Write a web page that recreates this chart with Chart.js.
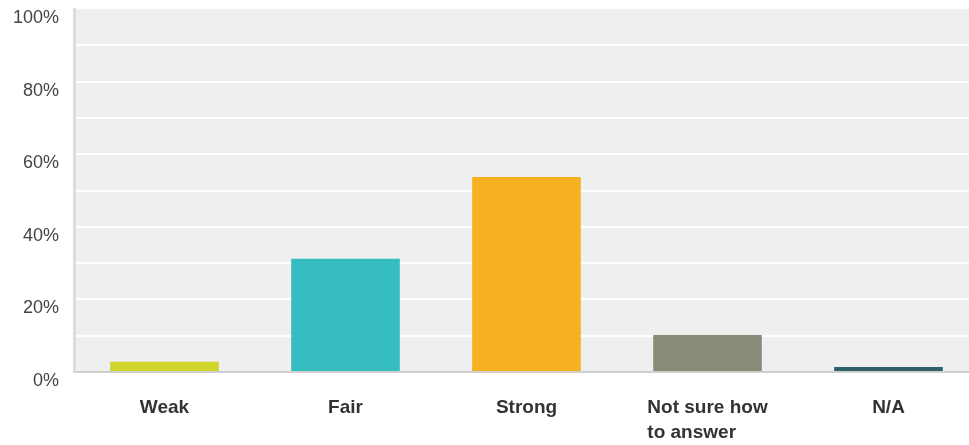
<!DOCTYPE html>
<html>
<head>
<meta charset="utf-8">
<script src="https://cdn.jsdelivr.net/npm/chart.js@4.4.1/dist/chart.umd.min.js"></script>
<style>
  html, body { margin: 0; padding: 0; background: #fff; overflow: hidden; }
  #wrap { position: relative; width: 979px; height: 445px; }
</style>
</head>
<body>
<div id="wrap"><canvas id="chart"></canvas></div>
<script>
// categories and values
const categories = [['Weak'], ['Fair'], ['Strong'], ['Not sure how', 'to answer'], ['N/A']];
const percents = [2.8, 31.2, 53.7, 10.2, 1.4];
const barColors = ['#cfd42a', '#35bdbf', '#f7b01f', '#8a8a79', '#2f5f6b'];
const yTicks = [0, 20, 40, 60, 80, 100];

const FONT = '"Liberation Sans", Arial, sans-serif';

// light grey plot background
const plotBg = {
  id: 'plotBg',
  beforeDraw(chart) {
    const a = chart.chartArea, ctx = chart.ctx;
    ctx.save();
    ctx.fillStyle = '#efefef';
    ctx.fillRect(a.left, a.top, a.right - a.left, a.bottom - a.top);
    ctx.restore();
  }
};

// x labels: multi-line ones are left aligned inside a centred block
const xLabels = {
  id: 'xLabels',
  afterDraw(chart) {
    const ctx = chart.ctx, x = chart.scales.x;
    ctx.save();
    ctx.font = 'bold 19px ' + FONT;
    ctx.fillStyle = '#333';
    ctx.textBaseline = 'alphabetic';
    ctx.textAlign = 'left';
    categories.forEach((lines, i) => {
      const cx = x.getPixelForValue(i);
      const w = Math.max(...lines.map(l => ctx.measureText(l).width));
      lines.forEach((l, j) => {
        ctx.fillText(l, cx - w / 2, 413 + j * 25);
      });
    });
    ctx.restore();
  }
};

new Chart(document.getElementById('chart'), {
  type: 'bar',
  data: {
    labels: categories.map(c => c.join(' ')),
    datasets: [{
      data: percents,
      backgroundColor: barColors,
      barPercentage: 0.6,
      categoryPercentage: 1
    }]
  },
  options: {
    responsive: true,
    maintainAspectRatio: false,
    animation: false,
    layout: { padding: { top: 9, right: 0, bottom: 0, left: 0 } },
    plugins: { legend: { display: false }, tooltip: { enabled: false } },
    scales: {
      x: {
        grid: { display: false },
        border: { color: '#cfcfcf', width: 2 },
        ticks: { display: false },
        afterFit(scale) { scale.height = 73; scale.paddingLeft = 0; scale.paddingRight = 0; }
      },
      y: {
        min: 0,
        max: 100,
        ticks: {
          stepSize: 10,
          padding: 15,
          labelOffset: 9,
          color: '#444',
          font: { family: FONT, size: 18 },
          callback: v => yTicks.includes(v) ? v + '%' : ''
        },
        grid: {
          drawTicks: false,
          lineWidth: 2,
          color: ctx => (ctx.tick && (ctx.tick.value === 0 || ctx.tick.value === 100)) ? 'rgba(0,0,0,0)' : '#ffffff'
        },
        border: { color: '#dcdcdc', width: 3 },
        afterFit(scale) { scale.width = 74; scale.paddingTop = 0; scale.paddingBottom = 0; }
      }
    }
  },
  plugins: [plotBg, xLabels]
});
</script>
</body>
</html>
